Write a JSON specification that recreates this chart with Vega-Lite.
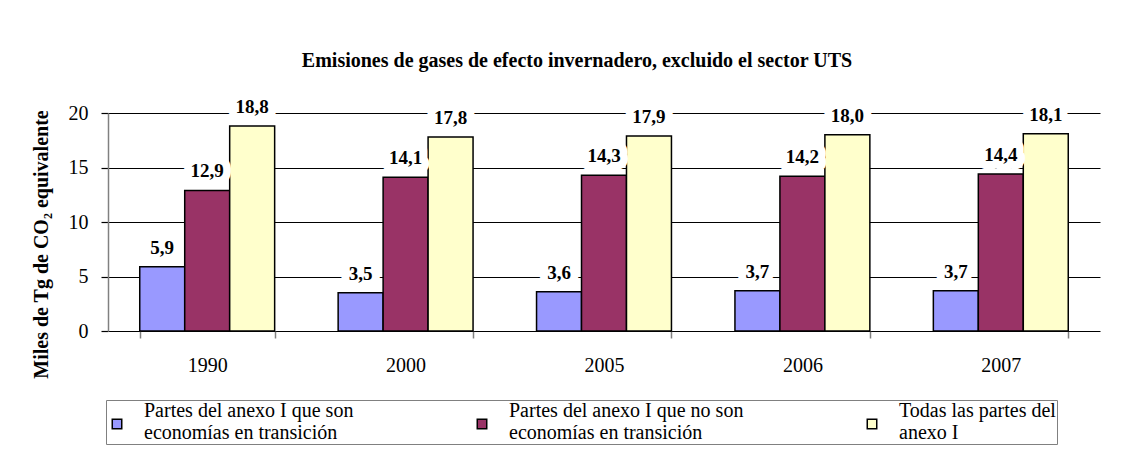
{
  "$schema": "https://vega.github.io/schema/vega-lite/v6.json",
  "width": 992,
  "height": 218,
  "autosize": {"type": "none"},
  "padding": {"left": 108, "top": 113, "right": 21, "bottom": 132},
  "background": "white",
  "title": {
    "text": "Emisiones de gases de efecto invernadero, excluido el sector UTS",
    "font": "Times New Roman, Liberation Serif, serif",
    "fontSize": 20,
    "fontWeight": "bold",
    "color": "black",
    "dx": -27,
    "offset": 27
  },
  "data": {
    "values": [
      {"year": "1990", "serie": "Partes del anexo I que son economías en transición", "valor": 5.9},
      {"year": "1990", "serie": "Partes del anexo I que no son economías en transición", "valor": 12.9},
      {"year": "1990", "serie": "Todas las partes del anexo I", "valor": 18.8},
      {"year": "2000", "serie": "Partes del anexo I que son economías en transición", "valor": 3.5},
      {"year": "2000", "serie": "Partes del anexo I que no son economías en transición", "valor": 14.1},
      {"year": "2000", "serie": "Todas las partes del anexo I", "valor": 17.8},
      {"year": "2005", "serie": "Partes del anexo I que son economías en transición", "valor": 3.6},
      {"year": "2005", "serie": "Partes del anexo I que no son economías en transición", "valor": 14.3},
      {"year": "2005", "serie": "Todas las partes del anexo I", "valor": 17.9},
      {"year": "2006", "serie": "Partes del anexo I que son economías en transición", "valor": 3.7},
      {"year": "2006", "serie": "Partes del anexo I que no son economías en transición", "valor": 14.2},
      {"year": "2006", "serie": "Todas las partes del anexo I", "valor": 18.0},
      {"year": "2007", "serie": "Partes del anexo I que son economías en transición", "valor": 3.7},
      {"year": "2007", "serie": "Partes del anexo I que no son economías en transición", "valor": 14.4},
      {"year": "2007", "serie": "Todas las partes del anexo I", "valor": 18.1}
    ]
  },
  "encoding": {
    "x": {
      "field": "year",
      "type": "nominal",
      "sort": null,
      "scale": {"paddingInner": 0.32, "paddingOuter": 0.16},
      "axis": {
        "title": null,
        "labelAngle": 0,
        "labelFont": "Times New Roman, Liberation Serif, serif",
        "labelFontSize": 20,
        "labelColor": "black",
        "labelPadding": 17,
        "domain": false,
        "tickBand": "extent",
        "tickColor": "#808080",
        "tickSize": 7,
        "tickWidth": 1.5,
        "grid": false
      }
    },
    "xOffset": {
      "field": "serie",
      "type": "nominal",
      "sort": null,
      "scale": {"paddingInner": 0, "paddingOuter": 0}
    },
    "y": {
      "field": "valor",
      "type": "quantitative",
      "scale": {"domain": [0, 20], "nice": false},
      "axis": {
        "title": "Miles de Tg de CO₂ equivalente",
        "titleFont": "Times New Roman, Liberation Serif, serif",
        "titleFontSize": 20,
        "titleFontWeight": "bold",
        "titleColor": "black",
        "titlePadding": 17,
        "titleY": 131,
        "values": [0, 5, 10, 15, 20],
        "labelFont": "Times New Roman, Liberation Serif, serif",
        "labelFontSize": 20,
        "labelColor": "black",
        "labelPadding": 13,
        "tickSize": 7,
        "tickColor": "black",
        "tickWidth": 1.2,
        "domainColor": "#808080",
        "domainWidth": 1.5,
        "grid": true,
        "gridColor": "black",
        "gridWidth": 1.2
      }
    }
  },
  "layer": [
    {
      "mark": {"type": "bar", "stroke": "black", "strokeWidth": 1.5},
      "encoding": {
        "color": {
          "field": "serie",
          "type": "nominal",
          "sort": null,
          "scale": {
            "domain": [
              "Partes del anexo I que son economías en transición",
              "Partes del anexo I que no son economías en transición",
              "Todas las partes del anexo I"
            ],
            "range": ["#9999FF", "#993366", "#FFFFCC"]
          },
          "legend": {
            "title": null,
            "orient": "none",
            "legendX": -2,
            "legendY": 287,
            "direction": "horizontal",
            "columns": 3,
            "columnPadding": 118,
            "symbolType": "M-1,1.74H1V3.74H-1Z",
            "symbolSize": 90,
            "symbolStrokeColor": "black",
            "symbolStrokeWidth": 1.5,
            "symbolOpacity": 1,
            "labelFont": "Times New Roman, Liberation Serif, serif",
            "labelFontSize": 20,
            "labelColor": "black",
            "labelLimit": 0,
            "labelOffset": 17,
            "labelBaseline": "middle",
            "labelExpr": "datum.value == 'Partes del anexo I que son economías en transición' ? ['Partes del anexo I que son', 'economías en transición'] : datum.value == 'Partes del anexo I que no son economías en transición' ? ['Partes del anexo I que no son', 'economías en transición'] : ['Todas las partes del', 'anexo I']",
            "strokeColor": "#808080",
            "fillColor": "white",
            "padding": 1
          }
        }
      }
    },
    {
      "mark": {
        "type": "text",
        "baseline": "middle",
        "dy": -19,
        "font": "Times New Roman, Liberation Serif, serif",
        "fontSize": 19,
        "fontWeight": "bold",
        "fill": "white",
        "stroke": "white",
        "strokeWidth": 16,
        "strokeJoin": "round"
      },
      "encoding": {
        "text": {"field": "valor", "type": "quantitative", "format": ".1f"}
      }
    },
    {
      "mark": {
        "type": "text",
        "baseline": "middle",
        "dy": -19,
        "font": "Times New Roman, Liberation Serif, serif",
        "fontSize": 19,
        "fontWeight": "bold",
        "color": "black"
      },
      "encoding": {
        "text": {"field": "valor", "type": "quantitative", "format": ".1f"}
      }
    }
  ],
  "config": {
    "view": {"stroke": null},
    "font": "Times New Roman, Liberation Serif, serif",
    "locale": {
      "number": {"decimal": ",", "thousands": ".", "grouping": [3], "currency": ["", " €"]}
    }
  }
}
